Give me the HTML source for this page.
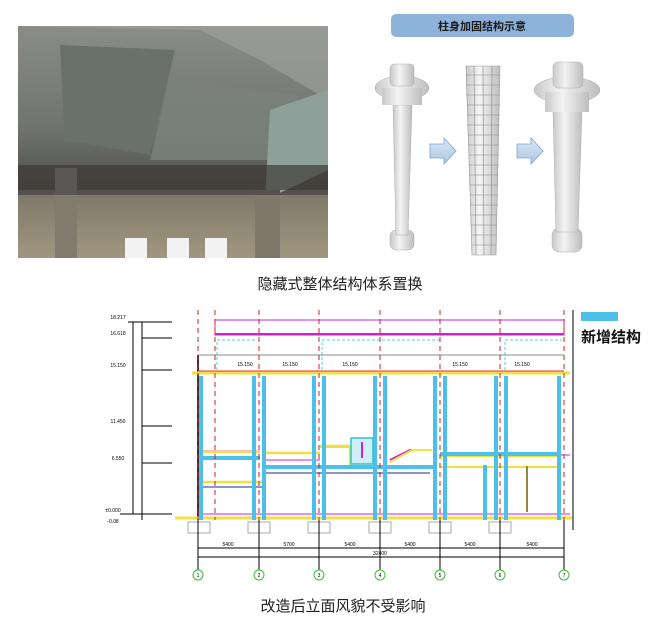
<!DOCTYPE html>
<html><head><meta charset="utf-8"><style>
html,body{margin:0;padding:0;background:#fff;}
svg{display:block;}
text{font-family:"Liberation Sans","Noto Sans CJK SC",sans-serif;}
</style></head><body>
<svg width="651" height="629" viewBox="0 0 651 629" xmlns="http://www.w3.org/2000/svg">
<defs>
<linearGradient id="ph" x1="0" y1="0" x2="0" y2="1">
<stop offset="0" stop-color="#8a8c88"/><stop offset="0.45" stop-color="#6f736f"/><stop offset="0.7" stop-color="#4f4d4a"/><stop offset="1" stop-color="#9a8f7a"/></linearGradient>
<linearGradient id="col" x1="0" y1="0" x2="1" y2="0">
<stop offset="0" stop-color="#c8c8c8"/><stop offset="0.4" stop-color="#f4f4f4"/><stop offset="1" stop-color="#bdbdbd"/></linearGradient>
<linearGradient id="arr" x1="0" y1="0" x2="0" y2="1"><stop offset="0" stop-color="#dbe8f5"/><stop offset="1" stop-color="#a9c6e4"/></linearGradient>
</defs>
<!-- photo -->
<rect x="18" y="26" width="310" height="232" fill="url(#ph)"/>
<polygon points="18,26 328,26 328,100 260,60 200,30" fill="#a2a4a0" opacity="0.6"/>
<polygon points="60,45 175,50 150,155 65,140" fill="#6a706c"/>
<polygon points="170,80 300,95 280,160 150,160" fill="#7a827e" opacity="0.8"/>
<polygon points="270,110 328,90 328,170 265,200" fill="#8fa09a"/>
<rect x="18" y="165" width="310" height="25" fill="#3e3a36" opacity="0.7"/>
<rect x="55" y="168" width="22" height="90" fill="#5a5854"/>
<rect x="255" y="190" width="25" height="68" fill="#55524e"/>
<rect x="18" y="195" width="310" height="63" fill="#a89e86" opacity="0.5"/>
<rect x="125" y="238" width="22" height="20" fill="#f2f2f2"/>
<rect x="167" y="238" width="22" height="20" fill="#f2f2f2"/>
<rect x="205" y="238" width="22" height="20" fill="#f2f2f2"/>
<!-- title box -->
<rect x="391" y="14" width="183" height="23" rx="5" fill="#8db3da"/>
<text x="482" y="30" font-size="11" text-anchor="middle" fill="#1a1a1a" font-weight="bold">柱身加固结构示意</text>
<!-- column 1 -->
<g>
<rect x="390" y="230" width="24" height="20" rx="6" fill="url(#col)" stroke="#aaa" stroke-width="0.5"/>
<polygon points="393,105 412,105 408,235 396,235" fill="url(#col)" stroke="#aaa" stroke-width="0.5"/>
<ellipse cx="402" cy="88" rx="27" ry="12" fill="url(#col)" stroke="#aaa" stroke-width="0.5"/>
<rect x="382" y="88" width="40" height="17" fill="url(#col)"/>
<rect x="390" y="64" width="24" height="22" rx="4" fill="url(#col)" stroke="#aaa" stroke-width="0.5"/>
</g>
<!-- column 2 -->
<g>
<polygon points="466,66 500,66 496,255 472,255" fill="url(#col)" stroke="#999" stroke-width="0.6"/>
<g stroke="#888" stroke-width="0.6" fill="none">
<line x1="474" y1="66" x2="476" y2="255"/><line x1="483" y1="66" x2="484" y2="255"/><line x1="492" y1="66" x2="491" y2="255"/>
<path d="M466 75h34M466 85h34M466 95h34M467 105h33M467 115h33M467 125h33M468 135h31M468 145h31M469 155h30M469 165h30M469 175h29M470 185h28M470 195h28M471 205h27M471 215h26M471 225h26M472 235h25M472 245h24"/>
</g>
</g>
<!-- column 3 -->
<g>
<rect x="552" y="228" width="30" height="24" rx="7" fill="url(#col)" stroke="#aaa" stroke-width="0.5"/>
<polygon points="553,110 582,110 578,232 556,232" fill="url(#col)" stroke="#aaa" stroke-width="0.5"/>
<ellipse cx="567" cy="90" rx="33" ry="13" fill="url(#col)" stroke="#aaa" stroke-width="0.5"/>
<rect x="545" y="92" width="44" height="20" fill="url(#col)"/>
<rect x="553" y="62" width="30" height="26" rx="5" fill="url(#col)" stroke="#aaa" stroke-width="0.5"/>
</g>
<!-- arrows -->
<polygon points="430,144 444,144 444,138 456,151 444,164 444,158 430,158" fill="url(#arr)" stroke="#7fa3c8" stroke-width="0.8"/>
<polygon points="517,144 531,144 531,138 543,151 531,164 531,158 517,158" fill="url(#arr)" stroke="#7fa3c8" stroke-width="0.8"/>
<text x="340" y="289" font-size="15" text-anchor="middle" fill="#222">隐藏式整体结构体系置换</text>

<!-- drawing -->
<g stroke-width="1" fill="none">
<!-- left axis -->
<line x1="133" y1="322" x2="133" y2="514" stroke="#000"/>
<line x1="142" y1="322" x2="142" y2="520" stroke="#000"/>
<path d="M128 322H172M142 338H172M142 370H172M142 426H172M142 463H172M120 514H172" stroke="#000"/>
<!-- frame -->
<line x1="198" y1="355" x2="198" y2="520" stroke="#333" stroke-width="2"/>
<!-- magenta top -->
<rect x="215" y="320" width="349" height="15" stroke="#d020d0"/>
<line x1="215" y1="334" x2="564" y2="334" stroke="#d020d0" stroke-width="2"/>
<path d="M217 370V340h40M322 370V340h120M505 370V340h57" stroke="#4cd0e0" stroke-dasharray="3,2"/>
<path d="M198 355H564" stroke="#888"/>
<line x1="192" y1="373" x2="570" y2="373" stroke="#f0e040" stroke-width="3"/>
<line x1="198" y1="371" x2="564" y2="371" stroke="#e03030"/>
<!-- interior lines -->
<path d="M200 451H260M265 460H320M320 447H350M440 455H570" stroke="#d020d0"/>
<path d="M200 452H260M262 453H320M320 446H350M350 446V466M440 456H560V464M200 482H262" stroke="#f0e040" stroke-width="2.5"/>
<path d="M390 460L410 450H430" stroke="#d020d0" stroke-width="2"/>
<path d="M390 462L412 450H432" stroke="#f0e040" stroke-width="2"/>
<path d="M200 487H262M265 473H430M440 467H560" stroke="#1a2a90"/>
<path d="M440 467H560M527 466V512" stroke="#f0e040" stroke-width="2"/>
<path d="M527 466V512" stroke="#333"/>
<!-- floor -->
<line x1="175" y1="518" x2="572" y2="518" stroke="#f0e040" stroke-width="3"/>
<line x1="198" y1="514" x2="570" y2="514" stroke="#d020d0"/>
<!-- blue columns -->
<g stroke="#4cc0e8" stroke-width="4">
<path d="M201 376V520M254 376V520M264 376V520M314 376V520M324 376V520M375 376V520M385 376V520M435 376V520M445 376V520M496 376V520M506 376V520M559 376V520M485 465V520"/>
<path d="M200 458H260M265 467H435M440 454H560"/>
</g>
<!-- elevator -->
<rect x="351" y="438" width="22" height="26" fill="#cfeff8" stroke="#30c0d0" stroke-width="1.5"/>
<line x1="362" y1="442" x2="362" y2="458" stroke="#d020d0" stroke-width="2"/>
<!-- red dashed grid -->
<g stroke="#d02020" stroke-dasharray="5,4">
<path d="M198 310V520M259 310V520M319 310V520M380 310V520M440 310V520M500 310V520M564 310V520M215 310V520"/>
</g>
<!-- footings -->
<g stroke="#aaa" fill="#fff">
<rect x="188" y="522" width="22" height="11"/><rect x="248" y="522" width="22" height="11"/><rect x="308" y="522" width="22" height="11"/><rect x="369" y="522" width="22" height="11"/><rect x="429" y="522" width="22" height="11"/><rect x="489" y="522" width="22" height="11"/>
</g>
<!-- dims -->
<path d="M198 548H564M198 557H564" stroke="#000"/>
<g stroke="#000"><path d="M198 520V570M259 520V570M319 520V570M380 520V570M440 520V570M500 520V570M564 520V570"/></g>
<line x1="573" y1="310" x2="573" y2="530" stroke="#000"/>
<g stroke="#30c030" fill="#fff">
<circle cx="198" cy="575" r="5"/><circle cx="259" cy="575" r="5"/><circle cx="319" cy="575" r="5"/><circle cx="380" cy="575" r="5"/><circle cx="440" cy="575" r="5"/><circle cx="500" cy="575" r="5"/><circle cx="564" cy="575" r="5"/>
</g>
</g>
<g font-size="5" fill="#000" text-anchor="middle">
<text x="198" y="577">1</text><text x="259" y="577">2</text><text x="319" y="577">3</text><text x="380" y="577">4</text><text x="440" y="577">5</text><text x="500" y="577">6</text><text x="564" y="577">7</text>
<text x="228" y="546">5400</text><text x="289" y="546">5700</text><text x="350" y="546">5400</text><text x="410" y="546">5400</text><text x="470" y="546">5400</text><text x="532" y="546">5400</text>
<text x="380" y="555">32400</text>
<text x="245" y="366">15.150</text><text x="290" y="366">15.150</text><text x="350" y="366">15.150</text><text x="460" y="366">15.150</text><text x="522" y="366">15.150</text>
<text x="118" y="319">18.217</text><text x="118" y="335">16.618</text><text x="118" y="367">15.150</text><text x="118" y="423">11.450</text><text x="118" y="460">6.550</text><text x="113" y="512">±0.000</text><text x="113" y="523">-0.08</text>
</g>
<rect x="581" y="312" width="37" height="9" fill="#4cc0e8"/>
<text x="581" y="342" font-size="15" font-weight="bold" fill="#111">新增结构</text>
<text x="343" y="611" font-size="15" text-anchor="middle" fill="#222">改造后立面风貌不受影响</text>
</svg>
</body></html>
